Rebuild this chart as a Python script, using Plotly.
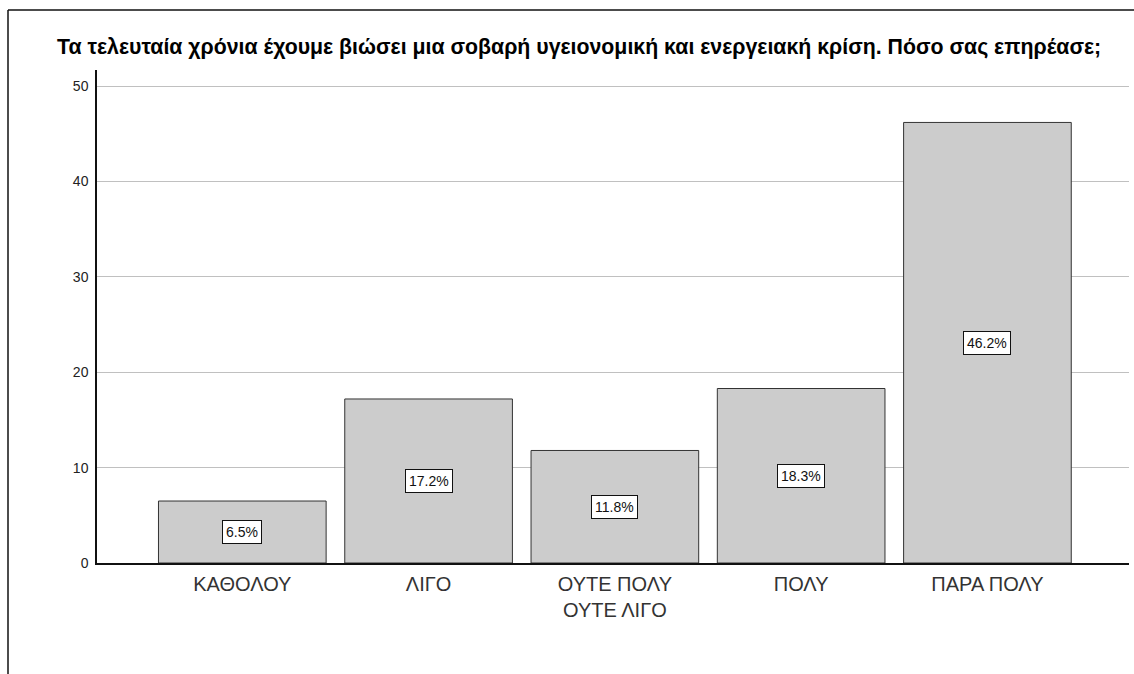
import plotly.graph_objects as go

# Survey responses: impact of the health and energy crisis (percent of respondents)
categories = ["ΚΑΘΟΛΟΥ", "ΛΙΓΟ", "ΟΥΤΕ ΠΟΛΥ<br>ΟΥΤΕ ΛΙΓΟ", "ΠΟΛΥ", "ΠΑΡΑ ΠΟΛΥ"]
percentages = [6.5, 17.2, 11.8, 18.3, 46.2]
y_ticks = [0, 10, 20, 30, 40, 50]
title_text = ("Τα τελευταία χρόνια έχουμε βιώσει μια σοβαρή υγειονομική "
              "και ενεργειακή κρίση. Πόσο σας επηρέασε;")

W, H = 1134, 674
ML, MR, MT, MB = 97, 5, 70, 111
plot_w = W - ML - MR
plot_h = H - MT - MB

def px_x(x):
    return (x - ML) / plot_w

def px_y(y):
    return 1 + (MT - y) / plot_h

font_family = "Liberation Sans, Arial, sans-serif"

fig = go.Figure()
fig.add_trace(go.Bar(
    x=categories,
    y=percentages,
    width=0.9,
    marker=dict(color="#cccccc", line=dict(color="#333333", width=1)),
    hoverinfo="skip",
))

annotations = []
for cat, val in zip(categories, percentages):
    annotations.append(dict(
        x=cat, y=val / 2, xref="x", yref="y",
        text=f"{val:.1f}%", showarrow=False,
        font=dict(family=font_family, size=14, color="#111111"),
        bgcolor="white", bordercolor="#111111", borderwidth=1, borderpad=3,
    ))

annotations.append(dict(
    x=px_x(55), y=px_y(47), xref="paper", yref="paper",
    xanchor="left", yanchor="middle", showarrow=False,
    text=f"<b>{title_text}</b>",
    font=dict(family=font_family, size=21.3, color="#000000"),
))

shapes = [
    # outer frame: left and top edges
    dict(type="line", xref="paper", yref="paper",
         x0=px_x(8), x1=px_x(8), y0=px_y(10), y1=px_y(H + 5),
         line=dict(color="#111111", width=1.5)),
    dict(type="line", xref="paper", yref="paper",
         x0=px_x(8), x1=px_x(W + 5), y0=px_y(10), y1=px_y(10),
         line=dict(color="#111111", width=1.5)),
]

fig.update_layout(
    width=W, height=H,
    margin=dict(l=ML, r=MR, t=MT, b=MB),
    paper_bgcolor="white", plot_bgcolor="white",
    showlegend=False,
    annotations=annotations,
    shapes=shapes,
    xaxis=dict(
        range=[-0.78, 4.76],
        showline=True, linecolor="#111111", linewidth=1.5,
        showgrid=False, ticks="", ticklabelstandoff=2,
        tickfont=dict(family=font_family, size=20, color="#333333"),
        fixedrange=True,
    ),
    yaxis=dict(
        range=[0, 51.7],
        tickvals=y_ticks,
        showline=True, linecolor="#111111", linewidth=1.5,
        showgrid=True, gridcolor="#c0c0c0", gridwidth=1,
        zeroline=False, ticks="", ticklabelstandoff=4,
        tickfont=dict(family=font_family, size=14, color="#222222"),
        fixedrange=True,
    ),
)

fig.write_html("out.html")
